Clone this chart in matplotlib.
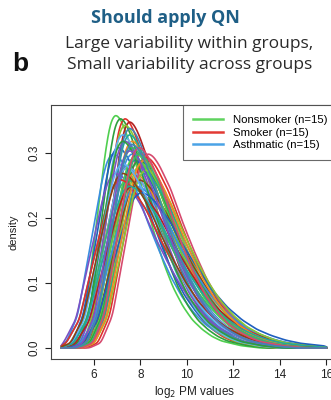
import numpy as np
import matplotlib
matplotlib.use("Agg")
import matplotlib.pyplot as plt

# typical density curve (peak at 7.5, height 0.30)
base_x = [5.0, 5.5, 6.0, 6.5, 7.0, 7.25, 7.5, 7.75, 8.0, 8.5, 9.0, 9.5, 10.0,
          10.5, 11.0, 11.5, 12.0, 12.5, 13.0, 14.0, 15.0]
base_y = [0.0, 0.008, 0.05, 0.15, 0.25, 0.287, 0.30, 0.295, 0.282, 0.245, 0.195,
          0.15, 0.11, 0.078, 0.054, 0.036, 0.024, 0.015, 0.009, 0.003, 0.0]

# peak position / peak height of each sample's density
nonsmoker_peak_x = [6.9, 7.1, 7.3, 7.5, 7.6, 7.8, 7.9, 8.0, 8.1, 7.4, 7.7, 7.2, 8.2, 7.5, 7.9]
nonsmoker_peak_y = [0.36, 0.355, 0.345, 0.33, 0.31, 0.30, 0.29, 0.285, 0.27, 0.26, 0.295, 0.32, 0.275, 0.25, 0.30]
smoker_peak_x = [7.3, 7.5, 7.6, 7.8, 8.0, 8.2, 7.4, 7.7, 7.9, 8.3, 7.1, 7.6, 8.1, 7.2, 7.9]
smoker_peak_y = [0.355, 0.35, 0.32, 0.30, 0.30, 0.295, 0.28, 0.27, 0.26, 0.30, 0.26, 0.25, 0.29, 0.27, 0.31]
asthmatic_peak_x = [6.8, 7.0, 7.2, 7.3, 7.5, 7.6, 7.7, 7.4, 6.9, 7.1, 7.8, 8.0, 7.2, 7.5, 7.6]
asthmatic_peak_y = [0.30, 0.31, 0.33, 0.32, 0.34, 0.30, 0.29, 0.28, 0.27, 0.26, 0.25, 0.24, 0.285, 0.305, 0.315]

groups = ["Nonsmoker (n=15)", "Smoker (n=15)", "Asthmatic (n=15)"]
group_peaks = [(nonsmoker_peak_x, nonsmoker_peak_y),
               (smoker_peak_x, smoker_peak_y),
               (asthmatic_peak_x, asthmatic_peak_y)]

legend_colors = ["#5fd35f", "#e23a34", "#4aa3e6"]
shades = [["#4fcf4f", "#2e9e3e", "#8cc832", "#22a89a", "#3cb371"],
          ["#e0302a", "#b22222", "#f08a24", "#8b4513", "#d64a6e"],
          ["#3a8ee0", "#1f5fbf", "#5fb0f5", "#7b52c4", "#4682b4"]]

plt.rcParams['font.family'] = ['Liberation Sans', 'DejaVu Sans']

fig = plt.figure(figsize=(3.31, 4.0), dpi=100)
ax = fig.add_axes([0.154, 0.1025, 0.867, 0.635])

grid = np.linspace(4.6, 16.0, 600)
bx = np.array(base_x)
by = np.array(base_y)
kern = np.exp(-0.5 * (np.arange(-8, 9) / 4.0) ** 2)
kern /= kern.sum()

def curve(px, py):
    s = 0.30 / py
    xs = px + (bx - 7.5) * s
    ys = by / s
    y = np.interp(grid, xs, ys, left=0, right=0)
    return np.convolve(y, kern, mode="same")

# interleave samples so no single group sits on top
for i in range(15):
    for g in range(3):
        px, py = group_peaks[g]
        ax.plot(grid, curve(px[i], py[i]), color=shades[g][i % 5], lw=1.2)

handles = [plt.Line2D([], [], color=c, lw=1.8) for c in legend_colors]
leg = ax.legend(handles, groups, loc="upper right", fontsize=8.2, frameon=True,
                fancybox=False, borderaxespad=0, handlelength=2.6,
                labelspacing=0.2, borderpad=0.9, handletextpad=0.9)
leg.get_frame().set_edgecolor("#444444")
leg.get_frame().set_linewidth(0.8)

ax.set_xlim(4.15, 16.5)
ax.set_ylim(-0.017, 0.374)
ax.set_xticks([6, 8, 10, 12, 14, 16])
ax.set_yticks([0.0, 0.1, 0.2, 0.3])
ax.set_yticklabels(["0.0", "0.1", "0.2", "0.3"], rotation=90, va="center")
ax.tick_params(direction="out", length=4, width=0.8, labelsize=8.5, colors="#222222")
for sp in ax.spines.values():
    sp.set_color("#444444")
    sp.set_linewidth(0.8)
ax.set_xlabel("log$_2$ PM values", fontsize=8.5, labelpad=2, color="#222222")
ax.set_ylabel("density", fontsize=8, labelpad=7, color="#222222")

fig.text(0.5, 0.955, "Should apply QN", ha="center", va="center",
         fontsize=13, fontweight="bold", color="#1f5f86", family="Open Sans")
fig.text(0.572, 0.89, "Large variability within groups,", ha="center", va="center",
         fontsize=12.5, color="#2a2a2a", family="Open Sans")
fig.text(0.572, 0.837, "Small variability across groups", ha="center", va="center",
         fontsize=12.5, color="#2a2a2a", family="Open Sans")
fig.text(0.06, 0.84, "b", ha="center", va="center", fontsize=19,
         fontweight="bold", color="#111111")

fig.savefig("out.png", dpi=100)
